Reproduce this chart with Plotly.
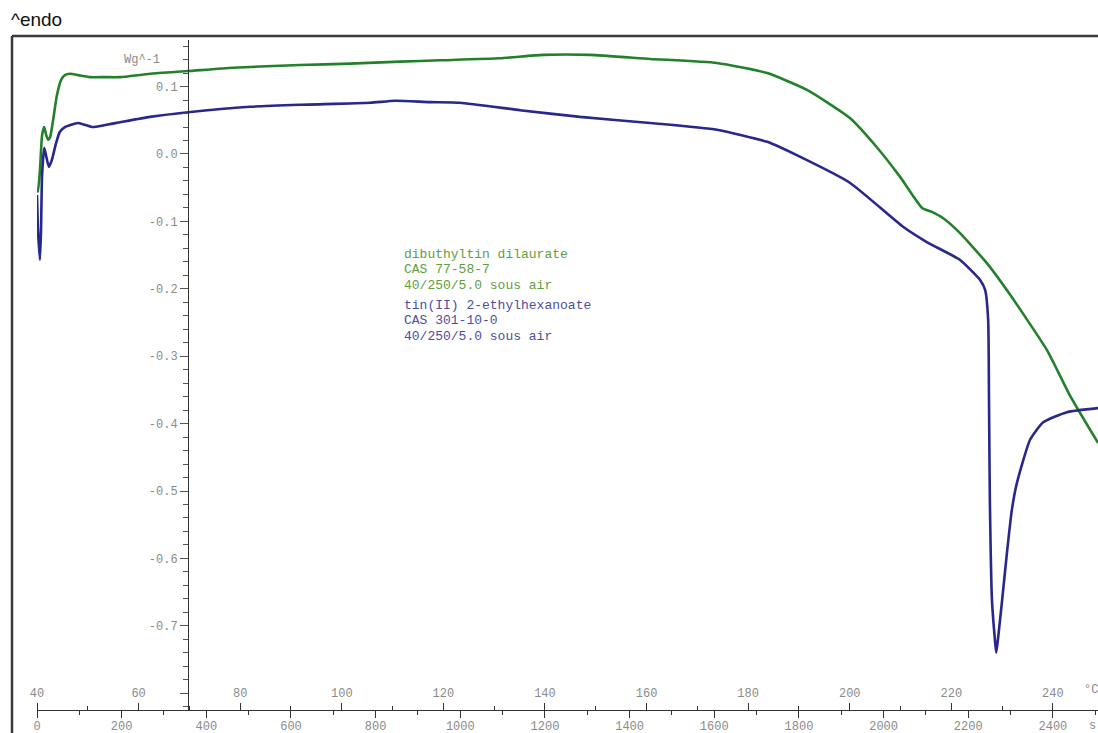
import plotly.graph_objects as go

W, H = 1098, 733

# ---------------- data (time in s, heat flow in W/g) ----------------
green_t = [0, 2.4, 7, 12, 17, 21, 26, 31, 38, 47, 57, 66, 78, 97, 125, 161, 196, 267, 357, 463,
           621, 739, 858, 952, 1094, 1195, 1306, 1448, 1606, 1725, 1819, 1921, 1984, 2039, 2091,
           2114, 2140, 2180, 2244, 2299, 2386, 2440, 2507]
green_v = [-0.050, -0.056, -0.024, 0.028, 0.040, 0.030, 0.021, 0.025, 0.050, 0.087, 0.110, 0.117,
           0.119, 0.117, 0.114, 0.114, 0.114, 0.119, 0.123, 0.128, 0.132, 0.134, 0.137, 0.139,
           0.142, 0.147, 0.147, 0.141, 0.135, 0.120, 0.095, 0.053, 0.010, -0.034, -0.080,
           -0.086, -0.095, -0.117, -0.162, -0.209, -0.291, -0.358, -0.429]

blue_t = [0, 2.4, 7, 9.5, 12, 17, 21, 28, 35, 45, 54, 66, 97, 130, 161, 196, 267, 357, 503, 621,
          787, 846, 928, 999, 1141, 1283, 1448, 1606, 1725, 1802, 1921, 2046, 2103, 2180, 2228,
          2240, 2247, 2249, 2251, 2256, 2263, 2266, 2270, 2280, 2292, 2303, 2315, 2346, 2377,
          2433, 2507]
blue_v = [-0.061, -0.113, -0.157, -0.113, -0.031, 0.009, -0.001, -0.019, -0.009, 0.016, 0.033,
          0.040, 0.046, 0.040, 0.043, 0.047, 0.055, 0.062, 0.070, 0.073, 0.076, 0.079, 0.077,
          0.076, 0.065, 0.055, 0.046, 0.036, 0.018, -0.004, -0.043, -0.108, -0.131, -0.157,
          -0.187, -0.202, -0.246, -0.365, -0.513, -0.662, -0.721, -0.740, -0.721, -0.662,
          -0.588, -0.528, -0.488, -0.424, -0.398, -0.383, -0.377]

time_ticks = list(range(0, 2401, 200))
temp_ticks = list(range(40, 241, 20))
y_tickvals = [0.1, 0.0, -0.1, -0.2, -0.3, -0.4, -0.5, -0.6, -0.7, -0.8]
y_ticktext = ["0.1", "0.0", "-0.1", "-0.2", "-0.3", "-0.4", "-0.5", "-0.6", "-0.7", ""]

green_label = ["dibuthyltin dilaurate", "CAS 77-58-7", "40/250/5.0 sous air"]
blue_label = ["tin(II) 2-ethylhexanoate", "CAS 301-10-0", "40/250/5.0 sous air"]

# ---------------- styling ----------------
GREEN = "#23802b"
BLUE = "#27278c"
GREEN_TXT = "#5e9e3e"
BLUE_TXT = "#4d4d9e"
TICK_GRAY = "#8a8a8a"
MONO = "Liberation Mono, Courier New, monospace"

def px(x):
    """window pixel x -> paper fraction"""
    return x / W

def py(y):
    """window pixel y -> paper fraction"""
    return 1 - y / H

t_max = 2506.5          # seconds at the right edge of the window
heat_rate = 12.0        # s per degC (5 K/min)
v_top, v_bot = 0.1691, -0.8249

fig = go.Figure()
fig.add_trace(go.Scatter(x=green_t, y=green_v, mode="lines",
                         line=dict(color=GREEN, width=2.6, shape="spline", smoothing=0.5),
                         hoverinfo="skip", showlegend=False))
fig.add_trace(go.Scatter(x=blue_t, y=blue_v, mode="lines",
                         line=dict(color=BLUE, width=2.6, shape="spline", smoothing=0.5),
                         hoverinfo="skip", showlegend=False))
# empty trace to activate the temperature axis
fig.add_trace(go.Scatter(x=[None], y=[None], xaxis="x2", yaxis="y", mode="lines",
                         hoverinfo="skip", showlegend=False))

tick_font = dict(family=MONO, size=12, color=TICK_GRAY)

fig.update_layout(
    template="none",
    width=W, height=H,
    margin=dict(l=0, r=0, t=0, b=0, pad=0),
    paper_bgcolor="white", plot_bgcolor="white",
    showlegend=False,
    xaxis=dict(domain=[px(37), 1], range=[0, t_max], anchor="free", position=py(710),
               side="bottom", showgrid=False, zeroline=False, showline=True, automargin=False,
               linecolor="#333333", linewidth=1,
               tickmode="array", tickvals=time_ticks, ticktext=[str(v) for v in time_ticks],
               ticks="outside", ticklen=7, tickcolor="#333333", tickwidth=1,
               ticklabelstandoff=-2,
               minor=dict(dtick=100, tick0=0, ticklen=4, tickcolor="#333333", ticks="outside"),
               tickfont=tick_font),
    xaxis2=dict(domain=[px(37), 1], range=[40, 40 + t_max / heat_rate], overlaying="x",
                anchor="free", position=py(710), side="top", showgrid=False, zeroline=False,
                showline=False, automargin=False,
                tickmode="array", tickvals=temp_ticks, ticktext=[str(v) for v in temp_ticks],
                ticks="outside", ticklen=7, tickcolor="#333333", tickwidth=1,
                ticklabelstandoff=1,
                minor=dict(dtick=10, tick0=40, ticklen=4, tickcolor="#333333", ticks="outside"),
                tickfont=tick_font),
    yaxis=dict(domain=[py(710), py(40)], range=[v_bot, v_top], anchor="free", position=px(188),
               side="left", showgrid=False, zeroline=False, showline=True, automargin=False,
               linecolor="#333333", linewidth=1,
               tickmode="array", tickvals=y_tickvals, ticktext=y_ticktext,
               ticks="outside", ticklen=8, tickcolor="#555555", tickwidth=1,
               minor=dict(dtick=0.02, tick0=0, ticklen=5, tickcolor="#555555", ticks="outside"),
               tickfont=tick_font),
)

# frame
fig.add_shape(type="line", xref="paper", yref="paper", x0=px(12), x1=1.0, y0=py(36), y1=py(36),
              line=dict(color="#3a3a3a", width=2.5))
fig.add_shape(type="line", xref="paper", yref="paper", x0=px(12), x1=px(12), y0=py(36), y1=0,
              line=dict(color="#3a3a3a", width=2.5))

annotations = [
    dict(text="^endo", x=px(9), y=py(20), xref="paper", yref="paper", xanchor="left",
         yanchor="middle", showarrow=False,
         font=dict(family="Liberation Sans, Arial, sans-serif", size=19, color="#111111")),
    dict(text="Wg^-1", x=px(162), y=py(60), xref="paper", yref="paper", xanchor="right",
         yanchor="middle", showarrow=False, font=tick_font),
    dict(text="°C", x=px(1082), y=py(690), xref="paper", yref="paper", xanchor="left",
         yanchor="middle", showarrow=False, font=tick_font),
    dict(text="s", x=px(1087), y=py(726), xref="paper", yref="paper", xanchor="left",
         yanchor="middle", showarrow=False, font=tick_font),
]
for i, line in enumerate(green_label):
    annotations.append(dict(text=line, x=px(402), y=py(254 + 15.5 * i), xref="paper", yref="paper",
                            xanchor="left", yanchor="middle", showarrow=False,
                            font=dict(family=MONO, size=13, color=GREEN_TXT)))
for i, line in enumerate(blue_label):
    annotations.append(dict(text=line, x=px(402), y=py(305 + 15.5 * i), xref="paper", yref="paper",
                            xanchor="left", yanchor="middle", showarrow=False,
                            font=dict(family=MONO, size=13, color=BLUE_TXT)))
fig.update_layout(annotations=annotations)

# remove the default page margin so the figure fills the window exactly
fig.write_html(
    "out.html",
    config={"displayModeBar": False},
    post_script="document.body.style.margin='0';"
                "document.body.style.overflow='hidden';"
                "document.documentElement.style.overflow='hidden';",
)
